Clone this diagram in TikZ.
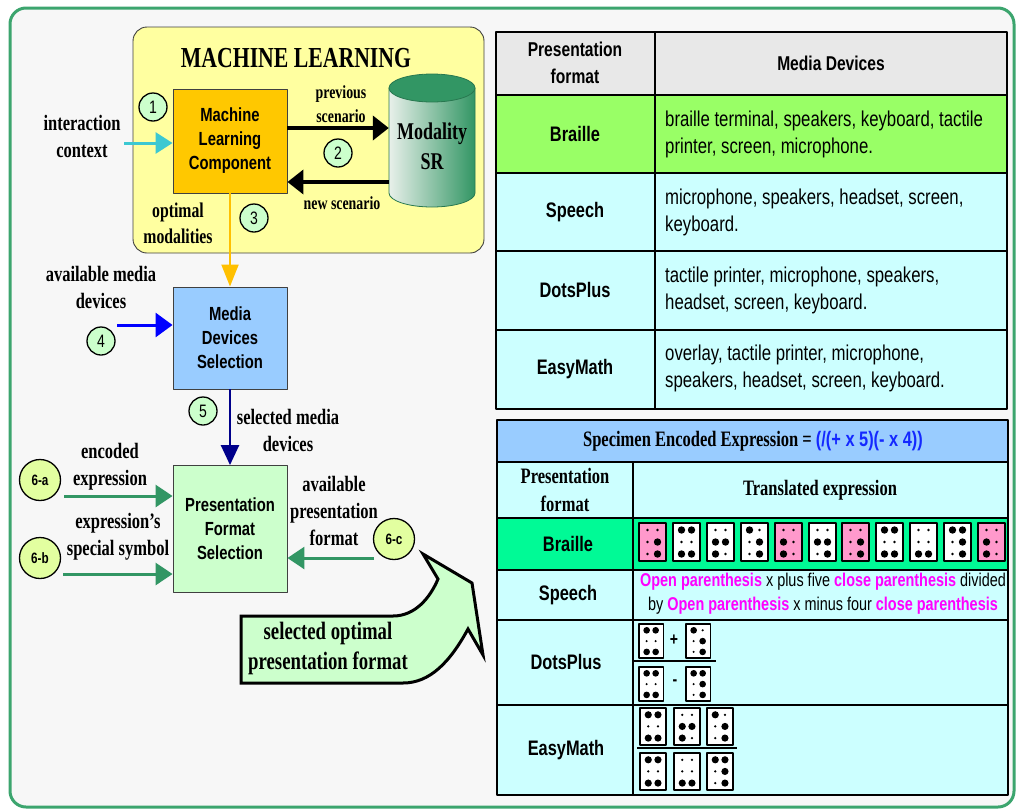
\documentclass[tikz,border=0pt]{standalone}
\usepackage{fontspec}
\setmainfont{Liberation Serif}
\newfontfamily\lblfont[FakeStretch=0.75]{Liberation Serif}
\newfontfamily\boxfont[FakeStretch=0.78]{Liberation Sans}
\usetikzlibrary{arrows.meta}
\definecolor{framegreen}{RGB}{60,165,110}
\definecolor{panelgrey}{RGB}{247,247,247}
\definecolor{mlyellow}{RGB}{255,255,160}
\definecolor{mlorange}{RGB}{255,200,0}
\definecolor{numgreen}{RGB}{204,255,204}
\definecolor{sixgreen}{RGB}{226,255,160}
\definecolor{cyanarrow}{RGB}{60,200,210}
\definecolor{arrowgold}{RGB}{255,192,0}
\definecolor{mdsblue}{RGB}{153,204,255}
\definecolor{navyarrow}{RGB}{0,0,139}
\definecolor{pfsgreen}{RGB}{204,255,204}
\definecolor{arrowgreen}{RGB}{50,150,100}
\definecolor{cylpale}{RGB}{232,240,234}
\definecolor{cyldark}{RGB}{50,150,100}
\definecolor{hdrgrey}{RGB}{232,232,232}
\definecolor{brgreen}{RGB}{153,255,102}
\definecolor{lcyan}{RGB}{204,255,255}
\definecolor{hdrblue}{RGB}{153,204,255}
\definecolor{mint}{RGB}{0,250,150}
\definecolor{cellpink}{RGB}{255,153,204}
\definecolor{exprblue}{RGB}{20,40,255}
\definecolor{magpink}{RGB}{255,0,255}
% one braille cell: fill, scale, top-left corner, raised dots
\newcommand{\bcell}[4]{%
  \begin{scope}[shift={#3},scale=#2]
    \draw[line width=1.6pt,fill=#1] (0,0) rectangle (27,-38);
    \foreach \colx in {0,1} \foreach \rowy in {0,1,2} \fill (8.5+10*\colx,-7-12*\rowy) circle (1.3);
    \foreach \d in {#4} {%
      \pgfmathtruncatemacro\cc{\d>3}%
      \pgfmathtruncatemacro\rr{mod(\d-1,3)}%
      \fill (8.5+10*\cc,-7-12*\rr) circle (3.7);}
  \end{scope}}

\begin{document}
\begin{tikzpicture}[x=1pt,y=1pt,line join=round,
  lbl/.style={font=\lblfont\bfseries\fontsize{22}{27}\selectfont,align=center,inner sep=0pt},
  lblsmall/.style={lbl,font=\lblfont\bfseries\fontsize{18.5}{24}\selectfont},
  procbox/.style={draw=black!75,line width=0.9pt,align=center,inner sep=0pt,minimum width=114pt,font=\boxfont\bfseries\fontsize{19}{24}\selectfont},
  numc/.style={circle,draw=black,line width=1.3pt,fill=numgreen,minimum size=28pt,inner sep=0pt,font=\boxfont\fontsize{18}{18}\selectfont},
  sixc/.style={numc,fill=sixgreen,minimum size=41pt,font=\boxfont\bfseries\fontsize{15}{15}\selectfont},
  tlbl/.style={font=\boxfont\bfseries\fontsize{21}{27}\selectfont,align=center,inner sep=0pt},
  ttxt/.style={font=\boxfont\fontsize{21.5}{27}\selectfont,align=left,anchor=west,inner sep=0pt},
  thdr/.style={font=\lblfont\bfseries\fontsize{22}{28}\selectfont,align=center,inner sep=0pt}]
\useasboundingbox (0,-809) rectangle (1016,0);
\draw[framegreen,line width=3pt,fill=panelgrey,rounded corners=16pt] (10,-8) rectangle (1014,-807);
% machine learning part
\draw[black!75,line width=0.9pt,fill=mlyellow,rounded corners=14pt] (133,-27) rectangle (484,-253);
\node[lbl,font=\lblfont\bfseries\fontsize{29}{32}\selectfont] (mltitle) at (296,-58) {MACHINE LEARNING};
\node[procbox,fill=mlorange,minimum height=104pt] (mlc) at (230,-141) {Machine\\Learning\\Component};
\node[numc] (n1) at (153,-107) {1};
\node[lbl] (ictx) at (82,-136) {interaction\\context};
\coordinate (ictxend) at (124,-143);
\draw[-{Triangle[length=17pt,width=21pt]},cyanarrow,line width=3pt] (ictxend) -- (mlc.west |- ictxend);
\shade[left color=cylpale,right color=cyldark,draw=cyldark!80!black,line width=0.8pt] (389,-88) -- (389,-193) arc (180:360:43 and 14) -- (475,-88) -- cycle;
\draw[fill=cyldark,draw=cyldark!80!black,line width=0.8pt] (432,-88) ellipse (43 and 14);
\node[lbl,font=\lblfont\bfseries\fontsize{24}{30}\selectfont,minimum width=86pt,minimum height=100pt] (cyl) at (432,-146) {Modality\\SR};
\coordinate (prevs) at ([yshift=13pt]mlc.east);
\coordinate (news) at ([yshift=-41pt]mlc.east);
\draw[-{Triangle[length=16pt,width=24pt]},line width=4pt] (prevs) -- (prevs -| cyl.west);
\draw[-{Triangle[length=16pt,width=24pt]},line width=4pt] (news -| cyl.west) -- (news);
\node[lblsmall] (prevlbl) at (341,-104) {previous\\scenario};
\node[lblsmall] (newlbl) at (342,-203) {new scenario};
\node[numc] (n2) at (338,-153) {2};
\node[lbl,font=\lblfont\bfseries\fontsize{21}{26}\selectfont] (optlbl) at (178,-223) {optimal\\modalities};
\node[numc] (n3) at (254,-218) {3};
% media devices selection
\node[procbox,fill=mdsblue,minimum height=102pt] (mds) at (230,-338) {Media\\Devices\\Selection};
\draw[-{Triangle[length=22pt,width=17pt]},arrowgold,line width=2pt] (mlc.south) -- (mds.north);
\node[lbl] (avmd) at (101,-287) {available media\\devices};
\coordinate (avmdend) at (117,-325);
\draw[-{Triangle[length=17pt,width=24pt]},blue,line width=3pt] (avmdend) -- (mds.west |- avmdend);
\node[numc] (n4) at (101,-341) {4};
% presentation format selection
\node[procbox,fill=pfsgreen,minimum height=127pt] (pfs) at (230,-529) {Presentation\\Format\\Selection};
\draw[-{Triangle[length=20pt,width=18pt]},navyarrow,line width=2.5pt] (mds.south) -- (pfs.north);
\node[numc] (n5) at (203,-411) {5};
\node[lbl] (selmd) at (288,-430) {selected media\\devices};
\node[sixc] (n6a) at (40,-480) {6-a};
\node[lbl] (enclbl) at (110,-467) {encoded\\expression};
\coordinate (encend) at (64,-496);
\draw[-{Triangle[length=17pt,width=22pt]},arrowgreen,line width=3pt] (encend) -- (pfs.west |- encend);
\node[sixc] (n6b) at (40,-558) {6-b};
\node[lbl] (symlbl) at (118,-537) {expression’s\\special symbol};
\coordinate (symend) at (63,-574);
\draw[-{Triangle[length=17pt,width=22pt]},arrowgreen,line width=3pt] (symend) -- (pfs.west |- symend);
\node[sixc] (n6c) at (394,-539) {6-c};
\node[lbl] (avpf) at (334,-511) {available\\presentation\\format};
\coordinate (avpfend) at (374,-558);
\draw[-{Triangle[length=17pt,width=22pt]},arrowgreen,line width=3pt] (avpfend) -- (pfs.east |- avpfend);
\draw[line width=3pt,fill=pfsgreen,line join=miter] (241,-616) -- (393,-616) .. controls (415,-616) and (430,-598) .. (438,-579) -- (423,-554) -- (472,-583) -- (483,-655) -- (468,-629) .. controls (450,-662) and (430,-683) .. (403,-683) -- (241,-683) -- cycle;
\node[lbl,font=\lblfont\bfseries\fontsize{25}{30}\selectfont] (soplbl) at (328,-648) {selected optimal\\presentation format};
% table of media devices
\fill[hdrgrey] (496,-32) rectangle (1007,-95);
\fill[brgreen] (496,-95) rectangle (1007,-173);
\fill[lcyan] (496,-173) rectangle (1007,-409);
\foreach \yy in {95,173,251,330} \draw[line width=2.5pt] (496,-\yy) -- (1007,-\yy);
\draw[line width=2.5pt] (655,-32) -- (655,-409);
\draw[line width=2.5pt] (496,-32) rectangle (1007,-409);
\node[tlbl,font=\boxfont\bfseries\fontsize{20}{27}\selectfont] (t1pf) at (575,-63) {Presentation\\format};
\node[tlbl,font=\boxfont\bfseries\fontsize{20}{27}\selectfont] (t1md) at (831,-63) {Media Devices};
\node[tlbl] (t1br) at (575,-134) {Braille};
\node[tlbl] (t1sp) at (575,-212) {Speech};
\node[tlbl] (t1dp) at (575,-290) {DotsPlus};
\node[tlbl] (t1em) at (575,-369) {EasyMath};
\node[ttxt] (t1brd) at (665,-134) {braille terminal, speakers, keyboard, tactile\\printer, screen, microphone.};
\node[ttxt] (t1spd) at (665,-212) {microphone, speakers, headset, screen,\\keyboard.};
\node[ttxt] (t1dpd) at (665,-290) {tactile printer, microphone, speakers,\\headset, screen, keyboard.};
\node[ttxt] (t1emd) at (665,-368) {overlay, tactile printer, microphone,\\speakers, headset, screen, keyboard.};
% table of translated expressions
\fill[hdrblue] (497,-420) rectangle (1008,-462);
\fill[lcyan] (497,-462) rectangle (1008,-518);
\fill[mint] (497,-518) rectangle (1008,-570);
\fill[lcyan] (497,-570) rectangle (1008,-795);
\foreach \yy in {462,518,570,620,705} \draw[line width=2.5pt] (497,-\yy) -- (1008,-\yy);
\draw[line width=2.5pt] (633,-462) -- (633,-795);
\draw[line width=2.5pt] (497,-420) rectangle (1008,-795);
\node[thdr] (t2title) at (753,-441) {Specimen Encoded Expression = {\boxfont\fontsize{21}{28}\selectfont\color{exprblue}(/(+ x 5)(- x 4))}};
\node[thdr] (t2pf) at (565,-490) {Presentation\\format};
\node[thdr] (t2te) at (820,-490) {Translated expression};
\node[tlbl] (t2br) at (568,-544) {Braille};
\node[tlbl] (t2sp) at (568,-595) {Speech};
\node[tlbl] (t2dp) at (566,-662) {DotsPlus};
\node[tlbl] (t2em) at (566,-750) {EasyMath};
\node[font=\boxfont\fontsize{18.5}{24}\selectfont,align=center,inner sep=0pt] (t2spd) at (823,-594) {{\bfseries\color{magpink}Open parenthesis} x plus five {\bfseries\color{magpink}close parenthesis} divided\\by {\bfseries\color{magpink}Open parenthesis} x minus four {\bfseries\color{magpink}close parenthesis}};
% braille row
\bcell{cellpink}{1}{(639,-523)}{5,6}
\bcell{white}{1}{(673,-523)}{1,3,4,6}
\bcell{white}{1}{(707,-523)}{2,3,5}
\bcell{white}{1}{(741,-523)}{1,5,6}
\bcell{cellpink}{1}{(775,-523)}{2,3}
\bcell{white}{1}{(809,-523)}{2,5,6}
\bcell{cellpink}{1}{(842,-523)}{5,6}
\bcell{white}{1}{(876,-523)}{1,3,4,6}
\bcell{white}{1}{(910,-523)}{3,6}
\bcell{white}{1}{(944,-523)}{1,4,5,6}
\bcell{cellpink}{1}{(978,-523)}{2,3}
% dotsplus row
\bcell{white}{0.9}{(639,-624)}{1,3,4,6}
\node[font=\boxfont\bfseries\fontsize{18}{18}\selectfont,inner sep=0pt] (dpplus) at (674,-640) {+};
\bcell{white}{0.9}{(686,-624)}{1,5,6}
\draw[line width=1.5pt] (634,-661) -- (716,-661);
\bcell{white}{0.9}{(639,-667)}{1,3,4,6}
\node[font=\boxfont\bfseries\fontsize{18}{18}\selectfont,inner sep=0pt] (dpminus) at (675,-683) {-};
\bcell{white}{0.9}{(686,-667)}{1,4,5,6}
% easymath row
\bcell{white}{0.97}{(640,-708)}{1,3,4,6}
\bcell{white}{0.97}{(674,-708)}{2,3,5}
\bcell{white}{0.97}{(707,-708)}{1,5,6}
\draw[line width=1.5pt] (637,-748) -- (737,-748);
\bcell{white}{0.97}{(640,-753)}{1,3,4,6}
\bcell{white}{0.97}{(674,-753)}{3,6}
\bcell{white}{0.97}{(707,-753)}{1,4,5,6}
\end{tikzpicture}
\end{document}
